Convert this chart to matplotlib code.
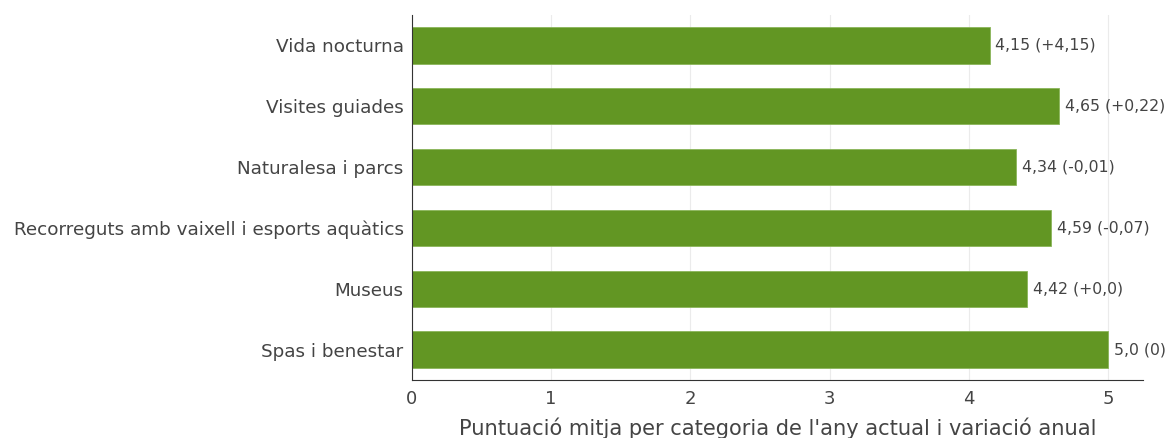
import matplotlib
matplotlib.use("Agg")
import matplotlib.pyplot as plt

plt.rcParams["font.family"] = ["DejaVu Sans"]

categories = ["Vida nocturna", "Visites guiades", "Naturalesa i parcs",
              "Recorreguts amb vaixell i esports aquàtics", "Museus", "Spas i benestar"]
values = [4.15, 4.65, 4.34, 4.59, 4.42, 5.0]
labels = ["4,15 (+4,15)", "4,65 (+0,22)", "4,34 (-0,01)", "4,59 (-0,07)", "4,42 (+0,0)", "5,0 (0)"]
xticks = [0, 1, 2, 3, 4, 5]

fig = plt.figure(figsize=(11.71, 4.38), dpi=100)
ax = fig.add_axes([0.3518, 0.1324, 0.976 - 0.3518, 0.9658 - 0.1324])
txt = "#444444"
ypos = list(range(len(categories)))
ax.barh(ypos, values, height=0.6, color="#629623", edgecolor="#8ab55a", linewidth=0.6, zorder=2)
for y, v, l in zip(ypos, values, labels):
    ax.text(v + 0.04, y, l, va="center", ha="left", fontsize=11.3, color=txt)
ax.set_yticks(ypos)
ax.set_yticklabels(categories, fontsize=13.2, color=txt)
ax.set_ylim(len(categories) - 0.5, -0.5)
ax.set_xlim(0, 5.25)
ax.set_xticks(xticks)
ax.set_xticklabels([str(t) for t in xticks], fontsize=13, color=txt)
ax.tick_params(axis="both", length=0, pad=6)
ax.tick_params(axis="x", pad=7)
ax.grid(axis="x", color="#ebebeb", linewidth=0.8, zorder=0)
ax.set_axisbelow(True)
for s in ["top", "right"]:
    ax.spines[s].set_visible(False)
ax.spines["left"].set_color("#333333")
ax.spines["bottom"].set_color("#333333")
ax.set_xlabel("Puntuació mitja per categoria de l'any actual i variació anual", fontsize=15.1, color=txt, labelpad=7)
fig.savefig("out.png", dpi=100)
